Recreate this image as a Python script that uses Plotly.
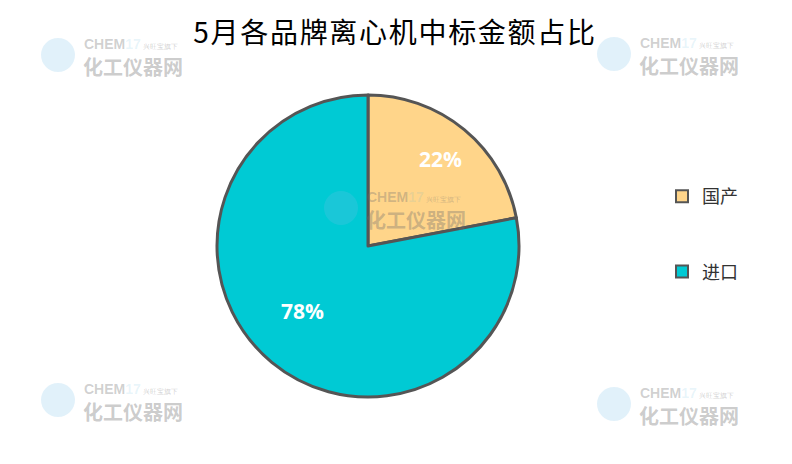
import math
import plotly.graph_objects as go

# ---- data ----
categories = ["国产", "进口"]
values = [22, 78]
colors = ["#FFD58A", "#00CAD4"]
title_text = "5月各品牌离心机中标金额占比"

W, H = 792, 464
cx, cy, R = 368, 246, 151

fig = go.Figure()
fig.add_trace(go.Pie(
    labels=categories, values=values, sort=False, direction="clockwise", rotation=0,
    marker=dict(colors=colors, line=dict(color="#555555", width=3)),
    textinfo="none", hoverinfo="label+percent", showlegend=False,
    domain=dict(x=[(cx - R) / W, (cx + R) / W], y=[(H - cy - R) / H, (H - cy + R) / H]),
))

# percentage labels placed from the data angles
total = sum(values)
start = 0.0
label_r = [0.75, 0.61]
label_da = [0.0, 5.4]
annotations = []
for i, v in enumerate(values):
    frac = v / total
    mid = (start + frac / 2) * 2 * math.pi + math.radians(label_da[i])
    start += frac
    x = cx + label_r[i] * R * math.sin(mid)
    y = cy - label_r[i] * R * math.cos(mid)
    annotations.append(dict(x=x / W, y=1 - y / H, xref="paper", yref="paper",
                            xanchor="center", yanchor="middle",
                            text=f"<b>{round(frac * 100)}%</b>", showarrow=False,
                            font=dict(color="white", size=21, family="Open Sans, Noto Sans CJK SC")))

# legend via dummy traces so items can be spaced apart
for i, c in enumerate(categories):
    fig.add_trace(go.Scatter(x=[None], y=[None], mode="markers", name=c, legendgroup=c,
                             marker=dict(symbol="square", size=13, color=colors[i],
                                         line=dict(color="#555555", width=3))))

# watermarks (logo disc + text)
wm = [(82, 45), (638, 44), (82, 390), (638, 394), (365, 198)]
shapes = []
for (x, y) in wm:
    lx, ly = x - 24, y + 10
    shapes.append(dict(type="circle", xref="paper", yref="paper",
                       x0=(lx - 17) / W, x1=(lx + 17) / W, y0=1 - (ly + 17) / H, y1=1 - (ly - 17) / H,
                       fillcolor="rgba(120,190,230,0.22)", line=dict(width=0), layer="above"))
    annotations.append(dict(x=x / W, y=1 - (y - 1) / H, xref="paper", yref="paper", showarrow=False,
                            xanchor="left", yanchor="middle",
                            text="<b>CHEM</b><b><span style='color:rgba(80,180,215,0.4)'>17</span></b>"
                                 "<span style='font-size:7px'> 兴旺宝旗下</span>",
                            font=dict(size=14, color="rgba(110,110,110,0.33)", family="Liberation Sans")))
    annotations.append(dict(x=(x - 1) / W, y=1 - (y + 21.5) / H, xref="paper", yref="paper", showarrow=False,
                            xanchor="left", yanchor="middle",
                            text="<b>化工仪器网</b>",
                            font=dict(size=20, color="rgba(110,110,110,0.36)", family="Noto Sans CJK SC")))

fig.update_layout(
    width=W, height=H,
    margin=dict(l=0, r=0, t=0, b=0),
    paper_bgcolor="white", plot_bgcolor="white",
    title=dict(text=title_text, x=395 / W, xanchor="center",
               y=1 - 33 / H, yanchor="middle",
               font=dict(size=28, color="#000000", family="Noto Sans CJK SC")),
    xaxis=dict(visible=False), yaxis=dict(visible=False),
    legend=dict(x=662 / W, y=1 - 178 / H, xanchor="left", yanchor="top",
                font=dict(size=18, color="#333333", family="Noto Sans CJK SC"),
                tracegroupgap=49, itemsizing="constant", bgcolor="rgba(0,0,0,0)"),
    annotations=annotations,
    shapes=shapes,
)

fig.write_html("out.html", config={"displayModeBar": False},
               post_script="document.body.style.margin='0px';"
                           "document.querySelectorAll('.gtitle').forEach(function(e){e.style.letterSpacing='1.7px';});")
